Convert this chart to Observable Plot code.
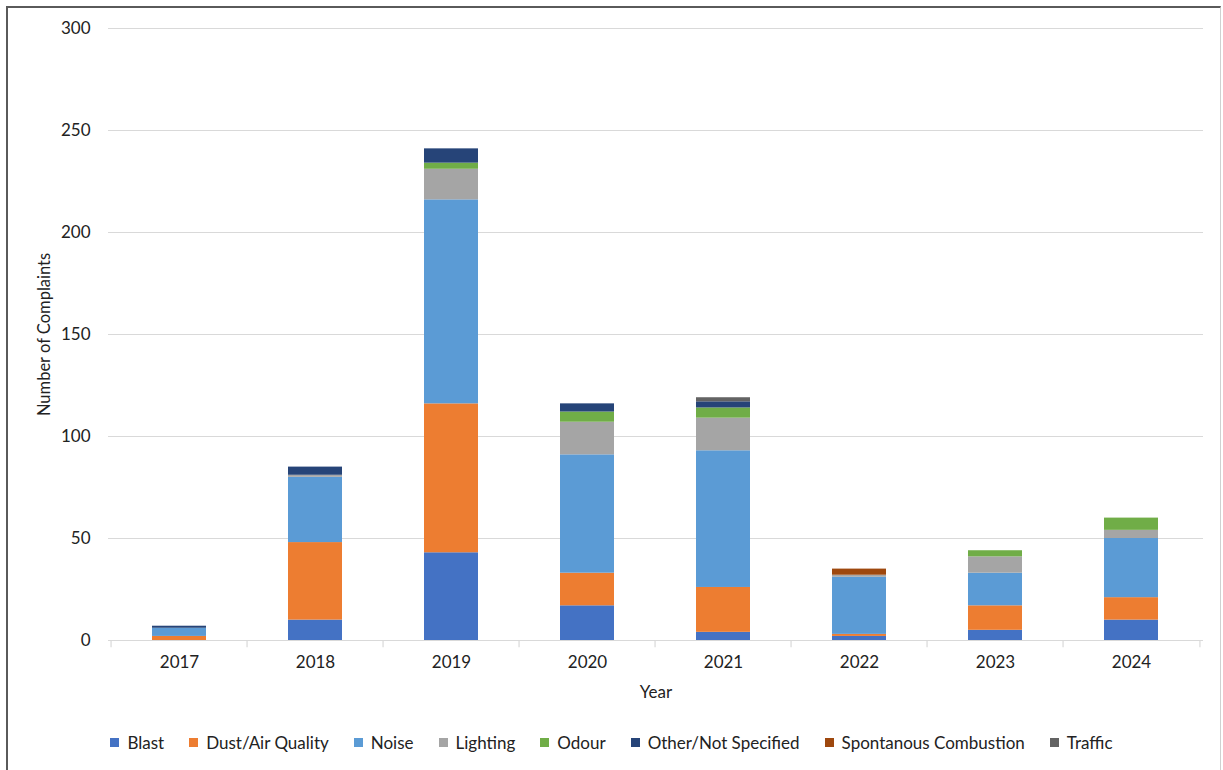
<!DOCTYPE html>
<html>
<head>
<meta charset="utf-8">
<script src="https://cdn.jsdelivr.net/npm/d3@7"></script>
<script src="https://cdn.jsdelivr.net/npm/@observablehq/plot@0.6"></script>
<style>
  body { margin: 0; background: #fff; font-family: Lato, "Open Sans", sans-serif; }
  #frame { position: absolute; left: 6px; top: 6px; width: 1215px; height: 770px;
           border-top: 2px solid #5a5a5a; border-left: 2px solid #5a5a5a; border-right: 1px solid #d0d0d0; box-sizing: border-box; }
  #chart { position: absolute; left: 0; top: 0; }
  #legend { position: absolute; left: 0; width: 1223px; top: 732px; display: flex; justify-content: center;
            gap: 25px; font-size: 17px; color: #222; padding-left: 0px; box-sizing: border-box; }
  .item { display: flex; align-items: center; }
  .sw { width: 9px; height: 9px; margin-right: 8px; }
</style>
</head>
<body>
<div id="frame"></div>
<div id="chart"></div>
<div id="legend"></div>
<script>
const years = ["2017", "2018", "2019", "2020", "2021", "2022", "2023", "2024"];
const seriesNames = ["Blast", "Dust/Air Quality", "Noise", "Lighting", "Odour", "Other/Not Specified", "Spontanous Combustion", "Traffic"];
const seriesColors = ["#4472C4", "#ED7D31", "#5B9BD5", "#A5A5A5", "#70AD47", "#264478", "#9E480E", "#636363"];
const blast    = [0, 10, 43, 17, 4, 2, 5, 10];
const dust     = [2, 38, 73, 16, 22, 1, 12, 11];
const noise    = [4, 32, 100, 58, 67, 28, 16, 29];
const lighting = [0, 1, 15, 16, 16, 1, 8, 4];
const odour    = [0, 0, 3, 5, 5, 0, 3, 6];
const other    = [1, 4, 7, 4, 3, 0, 0, 0];
const spont    = [0, 0, 0, 0, 0, 3, 0, 0];
const traffic  = [0, 0, 0, 0, 2, 0, 0, 0];
const yTicks = [0, 50, 100, 150, 200, 250, 300];

const seriesValues = [blast, dust, noise, lighting, odour, other, spont, traffic];
const data = [];
years.forEach((yr, i) => {
  seriesNames.forEach((s, k) => data.push({year: yr, series: s, value: seriesValues[k][i]}));
});

const W = 1223, ML = 108, MR = 20;
const step = (W - ML - MR) / years.length;

const chart = Plot.plot({
  width: W,
  height: 710,
  marginLeft: ML,
  marginRight: MR,
  marginTop: 28,
  marginBottom: 70,
  style: { fontFamily: "Lato, 'Open Sans', sans-serif", fontSize: "17px", color: "#222", background: "transparent" },
  x: { type: "band", domain: years, paddingInner: 0.6, paddingOuter: 0.3, label: null },
  y: { domain: [0, 300], ticks: yTicks, label: null },
  color: { domain: seriesNames, range: seriesColors },
  marks: [
    Plot.gridY(yTicks, { stroke: "#d9d9d9", strokeOpacity: 1, strokeWidth: 1.2 }),
    Plot.axisY(yTicks, { tickSize: 0, tickPadding: 18, fontSize: 17, label: null }),
    Plot.axisX({ tickSize: 0, tickPadding: 15, fontSize: 17, label: null }),
    Plot.barY(data, { x: "year", y: "value", fill: "series", order: seriesNames }),
    Plot.ruleY([0], { stroke: "#d9d9d9", strokeWidth: 1.2 }),
    Plot.ruleX(years, { x: d => d, dx: -step / 2, y1: 0, y2: -3.6, stroke: "#d9d9d9", strokeWidth: 1.2 }),
    Plot.ruleX(years.slice(-1), { x: d => d, dx: step / 2, y1: 0, y2: -3.6, stroke: "#d9d9d9", strokeWidth: 1.2 }),
    Plot.text(["Number of Complaints"], { frameAnchor: "left", dx: -64, rotate: -90, textAnchor: "middle", fontSize: 16.5, fill: "#222" }),
    Plot.text(["Year"], { frameAnchor: "bottom", dy: 52, lineAnchor: "middle", fontSize: 17, fill: "#222" })
  ]
});
document.getElementById("chart").appendChild(chart);

const legend = document.getElementById("legend");
seriesNames.forEach((s, k) => {
  const it = document.createElement("div");
  it.className = "item";
  const sw = document.createElement("div");
  sw.className = "sw";
  sw.style.background = seriesColors[k];
  const tx = document.createElement("span");
  tx.textContent = s;
  it.appendChild(sw);
  it.appendChild(tx);
  legend.appendChild(it);
});
</script>
</body>
</html>
